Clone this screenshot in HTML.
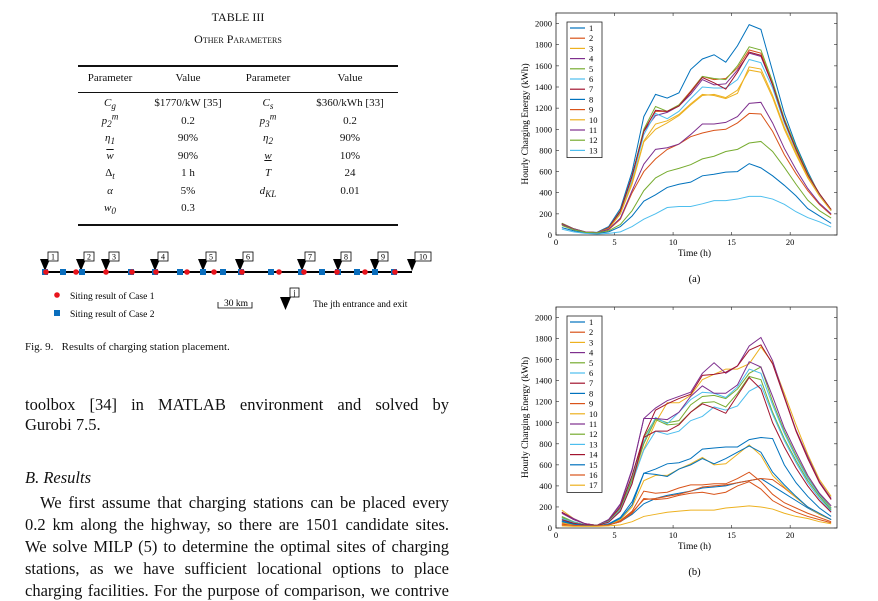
<!DOCTYPE html>
<html><head><meta charset="utf-8"><style>
body{margin:0;width:878px;height:590px;background:#fff;position:relative;overflow:hidden;font-family:"Liberation Serif",serif;color:#111}
.a{position:absolute;white-space:nowrap}
.c{transform:translateX(-50%)}
.rule{position:absolute;left:78px;width:320px;background:#111}
.p{position:absolute;left:25px;width:424px;font-size:16.5px;text-align:justify;text-align-last:justify;white-space:nowrap}
sub,sup{line-height:0}
</style></head><body>
<div class="a c" style="left:238px;top:10px;font-size:12px">TABLE III</div>
<div class="a c" style="left:238px;top:32px;font-size:12px;font-variant:small-caps">Other Parameters</div>
<div class="rule" style="top:65px;height:1.5px"></div>
<div class="rule" style="top:92px;height:1px"></div>
<div class="rule" style="top:224px;height:1.5px"></div>
<div style="font-size:11px">
<div class="a c" style="left:110px;top:72px">Parameter</div><div class="a c" style="left:188px;top:72px">Value</div><div class="a c" style="left:268px;top:72px">Parameter</div><div class="a c" style="left:350px;top:72px">Value</div>
<div class="a c" style="left:110px;top:97px;font-style:italic">C<sub>g</sub></div><div class="a c" style="left:188px;top:97px">$1770/kW [35]</div><div class="a c" style="left:268px;top:97px;font-style:italic">C<sub>s</sub></div><div class="a c" style="left:350px;top:97px">$360/kWh [33]</div>
<div class="a c" style="left:110px;top:115px;font-style:italic">p<sub>2</sub><sup>m</sup></div><div class="a c" style="left:188px;top:115px">0.2</div><div class="a c" style="left:268px;top:115px;font-style:italic">p<sub>3</sub><sup>m</sup></div><div class="a c" style="left:350px;top:115px">0.2</div>
<div class="a c" style="left:110px;top:132px;font-style:italic">η<sub>1</sub></div><div class="a c" style="left:188px;top:132px">90%</div><div class="a c" style="left:268px;top:132px;font-style:italic">η<sub>2</sub></div><div class="a c" style="left:350px;top:132px">90%</div>
<div class="a c" style="left:110px;top:150px;font-style:italic;text-decoration:overline">w</div><div class="a c" style="left:188px;top:150px">90%</div><div class="a c" style="left:268px;top:150px;font-style:italic;text-decoration:underline">w</div><div class="a c" style="left:350px;top:150px">10%</div>
<div class="a c" style="left:110px;top:167px">Δ<sub style="font-style:italic">t</sub></div><div class="a c" style="left:188px;top:167px">1 h</div><div class="a c" style="left:268px;top:167px;font-style:italic">T</div><div class="a c" style="left:350px;top:167px">24</div>
<div class="a c" style="left:110px;top:185px;font-style:italic">α</div><div class="a c" style="left:188px;top:185px">5%</div><div class="a c" style="left:268px;top:185px;font-style:italic">d<sub>KL</sub></div><div class="a c" style="left:350px;top:185px">0.01</div>
<div class="a c" style="left:110px;top:202px;font-style:italic">w<sub>0</sub></div><div class="a c" style="left:188px;top:202px">0.3</div>
</div>
<svg class="a" style="left:0;top:240px" width="450" height="90" id="diag"></svg>
<div class="a" style="left:25px;top:341px;font-size:11px">Fig. 9.&nbsp;&nbsp;&nbsp;Results of charging station placement.</div>
<div class="p" style="top:395px">toolbox [34] in MATLAB environment and solved by</div>
<div class="a" style="left:25px;top:415px;font-size:16.5px">Gurobi 7.5.</div>
<div class="a" style="left:25px;top:468px;font-size:16.5px;font-style:italic">B. Results</div>
<div class="p" style="top:493px;left:40px;width:409px">We first assume that charging stations can be placed every</div>
<div class="p" style="top:515px">0.2 km along the highway, so there are 1501 candidate sites.</div>
<div class="p" style="top:537px">We solve MILP (5) to determine the optimal sites of charging</div>
<div class="p" style="top:559px">stations, as we have sufficient locational options to place</div>
<div class="p" style="top:581px">charging facilities. For the purpose of comparison, we contrive</div>
<svg class="a" style="left:0;top:0" width="878" height="590" id="charts"></svg>
<script>
const NS="http://www.w3.org/2000/svg";
function mk(p,t,a,txt){const e=document.createElementNS(NS,t);for(const k in a)e.setAttribute(k,a[k]);if(txt!==undefined)e.textContent=txt;p.appendChild(e);return e;}
const entrances=[45,81,106,155,203,240,302,338,375,412];
const case1Sites=[45,75,105,131,155,186,213,241,278,303,336,364,394];
const case2Sites=[45,63,82,131,155,180,203,223,241,271,301,322,338,357,375,394];
const D=document.getElementById('diag');const LY=32;
let l=mk(D,'line',{x1:42,y1:LY,x2:412,y2:LY,stroke:'#000','stroke-width':2});


entrances.forEach((x,i)=>{let g=mk(D,'g',{});


mk(g,'polygon',{points:`${x-5},${LY-13} ${x+5},${LY-13} ${x},${LY-1}`,fill:'#000'});
const w=i==9?16:10;mk(g,'rect',{x:x+3,y:LY-20,width:w,height:9,fill:'#fff',stroke:'#000','stroke-width':0.8});
mk(g,'text',{x:x+3+w/2,y:LY-12.5,'font-size':8,'text-anchor':'middle'},String(i+1));});
case2Sites.forEach(x=>{let r=mk(D,'rect',{x:x-3,y:LY-3,width:6,height:6,fill:'#0a6ebd'});

});
case1Sites.forEach(x=>{let c=mk(D,'circle',{cx:x+1,cy:LY,r:2.8,fill:'#e8141c'});

});
mk(D,'circle',{cx:57,cy:55,r:2.8,fill:'#e8141c'});mk(D,'text',{x:70,y:59,'font-size':9.5},'Siting result of Case 1');
mk(D,'rect',{x:54,y:70,width:6,height:6,fill:'#0a6ebd'});mk(D,'text',{x:70,y:77,'font-size':9.5},'Siting result of Case 2');
mk(D,'path',{d:'M218,62 V68 H252 V62',fill:'none',stroke:'#000','stroke-width':0.8});mk(D,'text',{x:224,y:66,'font-size':9.5},'30 km');
mk(D,'polygon',{points:'280,57 291,57 285.5,70',fill:'#000'});mk(D,'rect',{x:290,y:48,width:9,height:9,fill:'#fff',stroke:'#000','stroke-width':0.8});
mk(D,'text',{x:294.5,y:55.5,'font-size':8,'text-anchor':'middle'},'j');mk(D,'text',{x:313,y:67,'font-size':9.5},'The jth entrance and exit');

const hours=[0.5,1.5,2.5,3.5,4.5,5.5,6.5,7.5,8.5,9.5,10.5,11.5,12.5,13.5,14.5,15.5,16.5,17.5,18.5,19.5,20.5,21.5,22.5,23.5];
const xTicks=[0,5,10,15,20];
const yTicks=[0,200,400,600,800,1000,1200,1400,1600,1800,2000];
const colors=['#0072BD','#D95319','#EDB120','#7E2F8E','#77AC30','#4DBEEE','#A2142F'];
const a1=[110,60,30,25,80,250,600,1120,1330,1295,1345,1565,1665,1705,1635,1790,1990,1945,1550,1150,850,600,380,240];
const a2=[110,58,28,22,70,230,560,990,1170,1170,1230,1360,1500,1470,1480,1580,1750,1720,1430,1090,820,570,390,240];
const a3=[100,55,28,22,60,200,480,880,1000,1060,1130,1230,1320,1330,1300,1370,1560,1540,1300,1000,760,540,370,230];
const a4=[110,58,28,22,70,225,550,980,1130,1160,1220,1330,1470,1420,1430,1560,1720,1690,1420,1080,810,570,390,240];
const a5=[110,58,28,22,70,230,560,1000,1215,1170,1230,1350,1500,1480,1470,1600,1780,1750,1450,1100,830,580,390,240];
const a6=[100,55,28,22,65,210,520,950,1150,1100,1170,1290,1400,1390,1390,1470,1660,1630,1390,1060,800,560,380,230];
const a7=[105,58,28,22,68,225,560,980,1180,1170,1220,1350,1490,1440,1380,1540,1730,1700,1420,1080,810,570,390,240];
const a8=[70,40,20,15,30,80,180,320,380,450,480,500,560,575,595,600,675,635,560,470,370,250,180,110];
const a9=[100,55,28,22,50,150,400,600,720,810,860,930,965,990,1000,1060,1150,1145,980,760,580,420,290,190];
const a10=[100,55,28,22,60,200,500,890,1050,1080,1140,1240,1330,1320,1290,1340,1590,1570,1320,1020,780,550,370,230];
const a11=[100,55,28,22,55,160,420,670,810,825,860,950,1050,1050,1065,1120,1245,1255,1060,820,620,440,300,200];
const a12=[90,50,25,20,40,100,230,420,540,600,630,665,720,745,790,810,870,885,790,640,480,330,230,160];
const a13=[55,30,15,10,15,30,80,150,200,260,270,270,295,325,325,340,365,365,340,290,220,165,125,75];
const b1=[60,35,20,20,30,60,130,230,280,310,330,350,380,390,400,430,450,470,400,330,260,190,130,80];
const b2=[40,30,20,20,30,70,160,350,330,340,380,410,410,420,420,470,530,440,320,240,190,140,100,60];
const b3=[170,90,40,25,60,180,450,750,1000,1190,1190,1260,1410,1460,1510,1510,1560,1720,1570,1280,980,700,460,300];
const b4=[150,90,40,25,80,220,550,1040,1140,1210,1250,1290,1470,1570,1470,1540,1730,1810,1590,1250,930,680,440,280];
const b5=[110,60,30,25,70,200,500,860,1040,1000,1020,1170,1250,1260,1230,1320,1470,1530,1200,920,690,480,320,190];
const b6=[100,60,30,25,70,190,480,820,1050,990,1100,1220,1290,1280,1240,1340,1510,1470,1170,900,670,470,310,180];
const b7=[150,80,40,25,70,200,500,870,1120,1180,1230,1270,1450,1460,1480,1540,1690,1740,1560,1240,920,660,430,270];
const b8=[70,40,25,20,40,100,250,520,560,610,620,660,750,760,770,770,840,860,850,600,430,300,190,110];
const b9=[30,25,20,20,30,60,150,270,280,300,320,350,390,400,410,430,450,470,460,380,290,200,130,80];
const b10=[50,30,20,20,30,80,200,450,500,500,560,610,670,600,610,700,790,690,500,390,290,200,130,80];
const b11=[140,80,40,25,80,230,560,1040,1040,1030,1100,1250,1350,1280,1280,1360,1580,1530,1250,950,720,500,330,210];
const b12=[100,55,30,25,65,180,460,800,1030,980,990,1100,1190,1200,1150,1280,1440,1410,1100,850,640,450,300,170];
const b13=[90,50,30,25,60,170,430,740,920,890,920,1020,1060,1150,1120,1160,1300,1360,1080,830,620,430,280,160];
const b14=[80,45,30,25,55,160,420,860,920,920,980,1100,1180,1140,1090,1260,1430,1320,1000,770,570,400,260,150];
const b15=[60,35,25,20,35,90,220,520,510,490,560,600,660,610,660,720,780,720,530,410,300,200,140,80];
const b16=[30,25,20,20,30,60,140,280,270,280,310,330,340,320,340,400,440,370,260,200,150,110,80,50];
const b17=[20,15,15,15,20,30,60,110,130,150,160,170,170,170,190,200,210,200,180,140,110,90,60,40];
const seriesA=[a1,a2,a3,a4,a5,a6,a7,a8,a9,a10,a11,a12,a13];
const seriesB=[b1,b2,b3,b4,b5,b6,b7,b8,b9,b10,b11,b12,b13,b14,b15,b16,b17];
const C=document.getElementById('charts');
function chart(series,L,R,T,B,label,name){
 const g=mk(C,'g',{});
 
 
 const xs=v=>L+(v/24)*(R-L), ys=v=>B-(v/2100)*(B-T);
 mk(g,'rect',{x:L,y:T,width:R-L,height:B-T,fill:'#fff',stroke:'#222','stroke-width':0.8});
 xTicks.forEach(t=>{mk(g,'line',{x1:xs(t),x2:xs(t),y1:B,y2:B-3,stroke:'#222','stroke-width':0.6});mk(g,'line',{x1:xs(t),x2:xs(t),y1:T,y2:T+3,stroke:'#222','stroke-width':0.6});
  const tx=mk(g,'text',{x:xs(t),y:B+10,'font-size':8.5,'text-anchor':'middle'},String(t));
  
  });
 yTicks.forEach(t=>{mk(g,'line',{x1:L,x2:L+3,y1:ys(t),y2:ys(t),stroke:'#222','stroke-width':0.6});mk(g,'line',{x1:R,x2:R-3,y1:ys(t),y2:ys(t),stroke:'#222','stroke-width':0.6});
  const ty=mk(g,'text',{x:L-4,y:ys(t)+3,'font-size':8.5,'text-anchor':'end'},String(t));
  
  });
 series.forEach((s,i)=>{const pl=mk(g,'polyline',{points:s.map((v,j)=>xs(hours[j])+','+ys(v)).join(' '),fill:'none',stroke:colors[i%7],'stroke-width':1});
  
  });
 const lg=mk(g,'g',{});
 
 
 const lx=L+11,ly=T+9,h=10.2;
 mk(lg,'rect',{x:lx,y:ly,width:35,height:series.length*h+3,fill:'#fff',stroke:'#222','stroke-width':0.8});
 series.forEach((s,i)=>{const yy=ly+6+i*h;mk(lg,'line',{x1:lx+3,x2:lx+18,y1:yy,y2:yy,stroke:colors[i%7],'stroke-width':1.2});
  const e=mk(lg,'text',{x:lx+22,y:yy+3,'font-size':8.5},String(i+1));
  
  });
 const yl=mk(g,'text',{x:0,y:0,'font-size':9.5,'text-anchor':'middle',transform:`translate(${L-28},${(T+B)/2}) rotate(-90)`},'Hourly Charging Energy (kWh)');
 
 
 const xl=mk(g,'text',{x:(L+R)/2-2,y:B+21,'font-size':9.5,'text-anchor':'middle'},'Time (h)');
 
 
 const lb=mk(g,'text',{x:(L+R)/2-2,y:B+47,'font-size':10.5,'text-anchor':'middle'},label);
 
 
}
chart(seriesA,556,837,13,235,'(a)','chart-a');
chart(seriesB,556,837,307,528,'(b)','chart-b');
</script>
</body></html>
